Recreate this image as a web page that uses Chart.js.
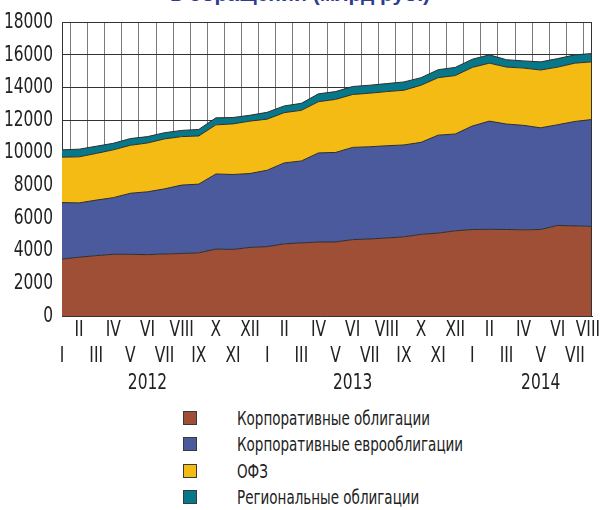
<!DOCTYPE html>
<html><head><meta charset="utf-8">
<script src="https://cdn.jsdelivr.net/npm/chart.js@4.4.1/dist/chart.umd.min.js"></script>
<style>
html,body{margin:0;padding:0;background:#fff;width:600px;height:510px;overflow:hidden;position:relative}
#title{position:absolute;left:0;width:600px;top:-16px;text-align:center;font:bold 21px 'Liberation Sans',Arial,sans-serif;color:#2d3c8e;line-height:20px;white-space:nowrap}
#wrap{position:absolute;left:0;top:0;width:600px;height:400px}
#legend{position:absolute;left:183px;top:405px;font:20px 'DejaVu Sans Condensed','Liberation Sans Narrow',sans-serif;color:#222}
.item{height:26.3px;display:flex;align-items:center;white-space:nowrap}
.sw{width:14px;height:14px;border:1px solid #3a3a3a;margin-right:40px;box-sizing:border-box;flex:none}
.tx{display:inline-block;transform:scaleX(0.75);transform-origin:0 50%}
</style>
</head><body>
<div id="title">в обращении (млрд руб.)</div>
<div id="wrap"><canvas id="c"></canvas></div>
<div id="legend"></div>
<script>
const months = ['I','II','III','IV','V','VI','VII','VIII','IX','X','XI','XII',
                'I','II','III','IV','V','VI','VII','VIII','IX','X','XI','XII',
                'I','II','III','IV','V','VI','VII','VIII'];
const years = ['2012','2013','2014'];
const yearTickIndex = [5, 17, 28];
const yTicks = [0,2000,4000,6000,8000,10000,12000,14000,16000,18000];

const seriesNames = ['Корпоративные облигации','Корпоративные еврооблигации','ОФЗ','Региональные облигации'];
const corporate = [3490,3600,3700,3780,3780,3760,3800,3830,3870,4100,4080,4200,
                   4250,4420,4480,4530,4540,4680,4720,4780,4850,5000,5080,5220,
                   5300,5310,5300,5280,5300,5550,5520,5490];
const euro = [3460,3330,3400,3470,3740,3850,3990,4190,4210,4600,4590,4530,
              4680,4960,5020,5460,5480,5650,5650,5650,5630,5640,6000,5930,
              6340,6630,6460,6400,6230,6170,6400,6550];
const ofz = [2780,2820,2860,2930,2940,2990,3060,2970,2950,3010,3100,3210,
             3130,3080,3100,3140,3250,3240,3280,3320,3350,3500,3520,3580,
             3590,3550,3490,3510,3540,3530,3570,3530];
const regional = [450,470,440,400,410,390,380,380,400,430,390,360,
                  420,410,430,480,480,490,490,490,510,460,490,500,
                  500,510,450,440,500,520,510,510];
const colors = ['#9e4f35','#4a5a9c','#f5bb15','#06788a'];

const FONT = "'DejaVu Sans Condensed','Liberation Sans Narrow',sans-serif";
const SQUEEZE = 0.78;
const values = [corporate, euro, ofz, regional];

const datasets = values.map((v,i)=>({
  label: seriesNames[i],
  data: v,
  backgroundColor: colors[i],
  borderColor: '#2f2f2f',
  borderWidth: 1,
  pointRadius: 0,
  tension: 0,
  fill: i === 0 ? 'origin' : '-1'
}));

// narrow the tick-label glyphs (condensed look) and keep them inside the canvas
const squeeze = {
  id:'squeeze',
  beforeDraw(chart){
    const ctx = chart.ctx;
    const orig = CanvasRenderingContext2D.prototype.fillText;
    const W = chart.width;
    ctx.fillText = function(text, x, y){
      const w = this.measureText(text).width * SQUEEZE;
      const t = this.getTransform();
      const ax = t.a * x + t.e;
      const al = this.textAlign;
      const left = (al === 'right' || al === 'end') ? ax - w : (al === 'center' ? ax - w/2 : ax);
      let dx = 0;
      if (left + w > W) dx = W - (left + w);
      if (left + dx < 0) dx = -left;
      this.save();
      this.translate(x + dx, y);
      this.scale(SQUEEZE, 1);
      orig.call(this, text, 0, 0);
      this.restore();
    };
  },
  afterDraw(chart){ delete chart.ctx.fillText; }
};

const frame = {
  id:'frame',
  afterDatasetsDraw(chart){
    const {ctx, chartArea:a} = chart;
    ctx.save();
    ctx.strokeStyle='#333'; ctx.lineWidth=1;
    ctx.beginPath();
    ctx.moveTo(Math.round(a.right)-0.5, a.top);
    ctx.lineTo(Math.round(a.right)-0.5, a.bottom);
    ctx.stroke();
    ctx.restore();
  }
};

new Chart(document.getElementById('c'), {
  type:'line',
  data:{labels: months, datasets},
  plugins:[squeeze, frame],
  options:{
    responsive:true, maintainAspectRatio:false, animation:false,
    layout:{padding:{top:19,right:8,left:0,bottom:0}},
    plugins:{legend:{display:false}, tooltip:{enabled:false}, title:{display:false}},
    scales:{
      x:{
        type:'category', offset:false,
        grid:{offset:true, color:'#7a7a7a', lineWidth:1, drawTicks:false},
        border:{color:'#333', width:1},
        ticks:{
          autoSkip:false, maxRotation:0, minRotation:0, padding:1,
          color:'#222', font:{family:FONT, size:22, lineHeight:1.2045},
          callback:(val, idx)=>{
            const m = months[idx];
            const lines = (idx % 2 === 1) ? [m, ''] : ['', m];
            const y = yearTickIndex.indexOf(idx);
            if (y >= 0) lines.push(years[y]);
            return lines;
          }
        },
        afterFit(s){ s.height = 84; s.paddingLeft = 0; s.paddingRight = 0; }
      },
      y:{
        stacked:true, min:0, max:18000,
        afterBuildTicks(s){ s.ticks = yTicks.map(v=>({value:v})); },
        grid:{color:'#333', lineWidth:1, drawTicks:false},
        border:{color:'#333', width:1},
        ticks:{color:'#222', padding:9, font:{family:FONT, size:22}, callback:v=>String(v)},
        afterFit(s){ s.width = 62; }
      }
    }
  }
});

const lg = document.getElementById('legend');
seriesNames.forEach((n,i)=>{
  const d = document.createElement('div'); d.className='item';
  const s = document.createElement('span'); s.className='sw'; s.style.background=colors[i];
  const t = document.createElement('span'); t.className='tx'; t.textContent = n;
  d.appendChild(s); d.appendChild(t); lg.appendChild(d);
});
</script>
</body></html>
